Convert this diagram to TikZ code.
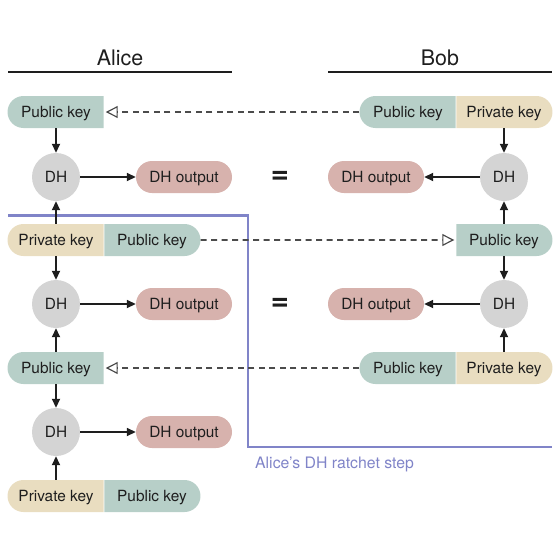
\documentclass[tikz,border=0pt]{standalone}
\usepackage{fontspec}
\setmainfont{TeX Gyre Heros}
\usetikzlibrary{shapes.misc,arrows.meta}
\definecolor{keygreen}{RGB}{183,207,200}
\definecolor{keytan}{RGB}{233,221,192}
\definecolor{outpink}{RGB}{215,178,173}
\definecolor{dhgray}{RGB}{212,212,212}
\definecolor{ratchetblue}{RGB}{128,132,200}
\definecolor{dashgray}{RGB}{75,75,75}
\definecolor{txt}{RGB}{30,30,30}
\begin{document}
\begin{tikzpicture}[x=1pt,y=-1pt,
  every node/.style={font=\fontsize{15.4}{17}\selectfont, text=txt, inner sep=0pt,
    text height=11pt, text depth=0pt},
  keybase/.style={rounded rectangle, minimum width=96pt, minimum height=32pt},
  pubL/.style={keybase, fill=keygreen, rounded rectangle right arc=none},
  pubR/.style={keybase, fill=keygreen, rounded rectangle left arc=none},
  privL/.style={keybase, fill=keytan, rounded rectangle right arc=none},
  privR/.style={keybase, fill=keytan, rounded rectangle left arc=none},
  dhout/.style={keybase, fill=outpink},
  dhnode/.style={circle, fill=dhgray, minimum size=48pt},
  flow/.style={draw=txt, line width=1.7pt, -{Triangle[length=9pt,width=8pt]}},
  send/.style={draw=dashgray, line width=1.6pt, dash pattern=on 6pt off 4.5pt,
    -{Triangle[open,length=12pt,width=12pt,line width=1.2pt]}, shorten >=2pt},
  hdr/.style={font=\fontsize{21.4}{24}\selectfont, text height=15.4pt},
  eqsign/.style={font=\fontsize{31}{33}\selectfont\bfseries, text height=, text depth=}
]
\useasboundingbox (0,0) rectangle (560,552);

% headers
\node[hdr] (alice) at (120,58) {Alice};
\node[hdr] (bob) at (440,58) {Bob};
\coordinate (al1) at (8,72); \coordinate (al2) at (232,72);
\coordinate (bl1) at (328,72); \coordinate (bl2) at (552,72);
\draw[line width=1.7pt, txt] (al1) -- (al2);
\draw[line width=1.7pt, txt] (bl1) -- (bl2);

% ratchet step outline
\coordinate (r1) at (8,215.5); \coordinate (r2) at (248,215.5);
\coordinate (r3) at (248,447); \coordinate (r4) at (552,447);
\draw[ratchetblue, line width=2.4pt] (r1) -- (r2) -- (r3) -- (r4);
\node[text=ratchetblue, anchor=west, font=\fontsize{15.8}{17}\selectfont] (rlabel) at (255,463) {Alice’s DH ratchet step};

% Alice column
\node[pubL] (a1) at (56,112) {Public key};
\node[dhnode] (adh1) at (56,177) {DH};
\node[dhout] (aout1) at (184,177) {DH output};
\node[privL] (a3priv) at (56,240) {Private key};
\node[pubR] (a3pub) at (152,240) {Public key};
\node[dhnode] (adh2) at (56,304) {DH};
\node[dhout] (aout2) at (184,304) {DH output};
\node[pubL] (a5) at (56,368) {Public key};
\node[dhnode] (adh3) at (56,432) {DH};
\node[dhout] (aout3) at (184,432) {DH output};
\node[privL] (a7priv) at (56,496) {Private key};
\node[pubR] (a7pub) at (152,496) {Public key};

% Bob column
\node[pubL] (b1pub) at (408,112) {Public key};
\node[privR] (b1priv) at (504,112) {Private key};
\node[dhnode] (bdh1) at (504,177) {DH};
\node[dhout] (bout1) at (376,177) {DH output};
\node[pubR] (b3) at (504,240) {Public key};
\node[dhnode] (bdh2) at (504,304) {DH};
\node[dhout] (bout2) at (376,304) {DH output};
\node[pubL] (b5pub) at (408,368) {Public key};
\node[privR] (b5priv) at (504,368) {Private key};

% equals
\node[eqsign] (eq1) at (280,177) {=};
\node[eqsign] (eq2) at (280,304) {=};

% Alice arrows
\draw[flow] (a1) -- (adh1);
\draw[flow] (a3priv) -- (adh1);
\draw[flow] (a3priv) -- (adh2);
\draw[flow] (a5) -- (adh2);
\draw[flow] (a5) -- (adh3);
\draw[flow] (a7priv) -- (adh3);
\draw[flow] (adh1) -- (aout1);
\draw[flow] (adh2) -- (aout2);
\draw[flow] (adh3) -- (aout3);

% Bob arrows
\draw[flow] (b1priv) -- (bdh1);
\draw[flow] (b3) -- (bdh1);
\draw[flow] (b3) -- (bdh2);
\draw[flow] (b5priv) -- (bdh2);
\draw[flow] (bdh1) -- (bout1);
\draw[flow] (bdh2) -- (bout2);

% sent keys
\draw[send] (b1pub) -- (a1);
\draw[send] (a3pub) -- (b3);
\draw[send] (b5pub) -- (a5);
\end{tikzpicture}
\end{document}
